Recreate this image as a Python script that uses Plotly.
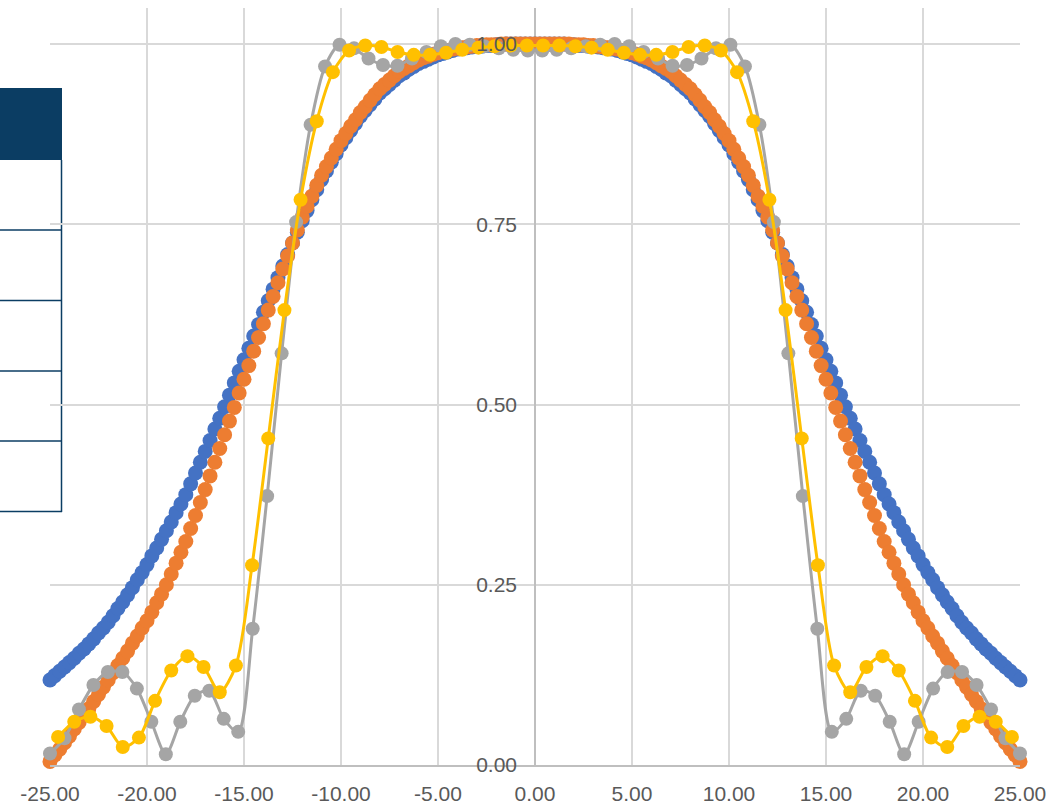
import numpy as np
import plotly.graph_objects as go

# Sampling grids
X_DENSE = np.linspace(-25, 25, 201)          # step 0.25
X_GRAY = np.linspace(-25, 25, 68)
X_YELLOW = np.linspace(-25 + 25 / 60, 25 - 25 / 60, 60)

BLUE = [
    0.118, 0.124, 0.130, 0.136, 0.142, 0.148, 0.155, 0.161,
    0.168, 0.175, 0.183, 0.190, 0.198, 0.207, 0.217, 0.226,
    0.236, 0.246, 0.257, 0.267, 0.278, 0.290, 0.301, 0.313,
    0.325, 0.337, 0.350, 0.362, 0.375, 0.390, 0.405, 0.420,
    0.435, 0.450, 0.466, 0.481, 0.497, 0.513, 0.530, 0.546,
    0.562, 0.578, 0.595, 0.611, 0.628, 0.644, 0.660, 0.676,
    0.692, 0.708, 0.724, 0.739, 0.755, 0.769, 0.784, 0.798,
    0.812, 0.824, 0.836, 0.848, 0.860, 0.870, 0.880, 0.890,
    0.900, 0.908, 0.916, 0.924, 0.932, 0.938, 0.944, 0.950,
    0.956, 0.960, 0.965, 0.969, 0.973, 0.976, 0.979, 0.982,
    0.985, 0.987, 0.989, 0.991, 0.993, 0.994, 0.995, 0.996,
    0.997, 0.997, 0.998, 0.998, 0.999, 0.999, 1.000, 1.000,
    1.000, 1.000, 1.000, 1.000,
    1.000,
    1.000, 1.000, 1.000, 1.000,
    1.000, 1.000, 0.999, 0.999, 0.998, 0.998, 0.997, 0.997,
    0.996, 0.995, 0.994, 0.993, 0.991, 0.989, 0.987, 0.985,
    0.982, 0.979, 0.976, 0.973, 0.969, 0.965, 0.960, 0.956,
    0.950, 0.944, 0.938, 0.932, 0.924, 0.916, 0.908, 0.900,
    0.890, 0.880, 0.870, 0.860, 0.848, 0.836, 0.824, 0.812,
    0.798, 0.784, 0.769, 0.755, 0.739, 0.724, 0.708, 0.692,
    0.676, 0.660, 0.644, 0.628, 0.611, 0.595, 0.578, 0.562,
    0.546, 0.530, 0.513, 0.497, 0.481, 0.466, 0.450, 0.435,
    0.420, 0.405, 0.390, 0.375, 0.362, 0.350, 0.337, 0.325,
    0.313, 0.301, 0.290, 0.278, 0.267, 0.257, 0.246, 0.236,
    0.226, 0.217, 0.207, 0.198, 0.190, 0.183, 0.175, 0.168,
    0.161, 0.155, 0.148, 0.142, 0.136, 0.130, 0.124, 0.118,
]

ORANGE = [
    0.005, 0.014, 0.022, 0.031, 0.040, 0.050, 0.059, 0.069,
    0.078, 0.088, 0.098, 0.108, 0.118, 0.128, 0.138, 0.148,
    0.158, 0.169, 0.179, 0.190, 0.200, 0.212, 0.225, 0.237,
    0.250, 0.265, 0.280, 0.295, 0.310, 0.328, 0.346, 0.364,
    0.382, 0.401, 0.420, 0.439, 0.458, 0.477, 0.496, 0.516,
    0.535, 0.554, 0.574, 0.593, 0.612, 0.631, 0.650, 0.669,
    0.688, 0.706, 0.724, 0.742, 0.760, 0.775, 0.789, 0.804,
    0.818, 0.830, 0.842, 0.854, 0.866, 0.876, 0.886, 0.895,
    0.905, 0.913, 0.922, 0.930, 0.938, 0.944, 0.950, 0.956,
    0.962, 0.966, 0.970, 0.974, 0.978, 0.981, 0.983, 0.986,
    0.988, 0.990, 0.991, 0.993, 0.994, 0.995, 0.996, 0.997,
    0.998, 0.998, 0.999, 0.999, 0.999, 1.000, 1.000, 1.000,
    1.000, 1.000, 1.000, 1.000,
    1.000,
    1.000, 1.000, 1.000, 1.000,
    1.000, 1.000, 1.000, 0.999, 0.999, 0.999, 0.998, 0.998,
    0.997, 0.996, 0.995, 0.994, 0.993, 0.991, 0.990, 0.988,
    0.986, 0.983, 0.981, 0.978, 0.974, 0.970, 0.966, 0.962,
    0.956, 0.950, 0.944, 0.938, 0.930, 0.922, 0.913, 0.905,
    0.895, 0.886, 0.876, 0.866, 0.854, 0.842, 0.830, 0.818,
    0.804, 0.789, 0.775, 0.760, 0.742, 0.724, 0.706, 0.688,
    0.669, 0.650, 0.631, 0.612, 0.593, 0.574, 0.554, 0.535,
    0.516, 0.496, 0.477, 0.458, 0.439, 0.420, 0.401, 0.382,
    0.364, 0.346, 0.328, 0.310, 0.295, 0.280, 0.265, 0.250,
    0.237, 0.225, 0.212, 0.200, 0.190, 0.179, 0.169, 0.158,
    0.148, 0.138, 0.128, 0.118, 0.108, 0.098, 0.088, 0.078,
    0.069, 0.059, 0.050, 0.040, 0.031, 0.022, 0.014, 0.005,
]

GRAY = [
    0.016, 0.037, 0.077, 0.111, 0.129, 0.129, 0.106, 0.060,
    0.015, 0.060, 0.096, 0.103, 0.064, 0.046, 0.189, 0.373,
    0.571, 0.753, 0.888, 0.969, 0.999, 0.994, 0.980, 0.971,
    0.970, 0.980, 0.989, 0.997, 1.000, 0.999, 0.997, 0.994,
    0.992, 0.991,
    0.991, 0.992, 0.994, 0.997, 0.999, 1.000, 0.997, 0.989,
    0.980, 0.970, 0.971, 0.980, 0.994, 0.999, 0.969, 0.888,
    0.753, 0.571, 0.373, 0.189, 0.046, 0.064, 0.103, 0.096,
    0.060, 0.015, 0.060, 0.106, 0.129, 0.129, 0.111, 0.077,
    0.037, 0.016,
]

YELLOW = [
    0.039, 0.060, 0.067, 0.054, 0.025, 0.038, 0.089, 0.131,
    0.151, 0.136, 0.101, 0.138, 0.277, 0.453, 0.631, 0.784,
    0.893, 0.961, 0.991, 0.998, 0.996, 0.989, 0.985, 0.985,
    0.988, 0.992, 0.995, 0.997, 0.998, 0.998,
    0.998, 0.998, 0.997, 0.995, 0.992, 0.988, 0.985, 0.985,
    0.989, 0.996, 0.998, 0.991, 0.961, 0.893, 0.784, 0.631,
    0.453, 0.277, 0.138, 0.101, 0.136, 0.151, 0.131, 0.089,
    0.038, 0.025, 0.054, 0.067, 0.060, 0.039,
]

X_TICKS = [-25, -20, -15, -10, -5, 0, 5, 10, 15, 20, 25]
X_LABELS = ["-25.00", "-20.00", "-15.00", "-10.00", "-5.00", "0.00",
            "5.00", "10.00", "15.00", "20.00", "25.00"]
Y_TICKS = [0, 0.25, 0.5, 0.75, 1.0]
Y_LABELS = ["0.00", "0.25", "0.50", "0.75", "1.00"]

FONT = "Liberation Sans, Arial, sans-serif"
TEXT_GREY = "#595959"
GRID = "#d9d9d9"
AXIS = "#bfbfbf"

fig = go.Figure()

fig.add_trace(go.Scatter(
    x=X_DENSE, y=BLUE, mode="markers", cliponaxis=False,
    marker=dict(size=15, color="#4472C4", line=dict(width=0)),
))
fig.add_trace(go.Scatter(
    x=X_DENSE, y=ORANGE, mode="markers", cliponaxis=False,
    marker=dict(size=15, color="#ED7D31", line=dict(width=0)),
))
fig.add_trace(go.Scatter(
    x=X_GRAY, y=GRAY, mode="lines+markers", cliponaxis=False,
    line=dict(color="#A5A5A5", width=3, shape="spline", smoothing=0.8),
    marker=dict(size=14, color="#A5A5A5", line=dict(width=0)),
))
fig.add_trace(go.Scatter(
    x=X_YELLOW, y=YELLOW, mode="lines+markers", cliponaxis=False,
    line=dict(color="#FFC000", width=3, shape="spline", smoothing=0.8),
    marker=dict(size=14, color="#FFC000", line=dict(width=0)),
))

# Table fragment sitting behind the chart on the left edge
NAVY = "#0b3d63"
PLOT_L, PLOT_R, PLOT_T, PLOT_B = 50, 1020, 8, 765


def px_x(px):
    return (px - PLOT_L) / (PLOT_R - PLOT_L)


def px_y(py):
    return (PLOT_B - py) / (PLOT_B - PLOT_T)


shapes = [
    dict(type="rect", xref="paper", yref="paper", layer="below",
         x0=px_x(0), x1=px_x(62), y0=px_y(160), y1=px_y(88),
         fillcolor=NAVY, line=dict(width=0)),
    dict(type="line", xref="paper", yref="paper", layer="below",
         x0=px_x(61.5), x1=px_x(61.5), y0=px_y(512), y1=px_y(160),
         line=dict(color=NAVY, width=1.5)),
]
for row_y in [230, 300.5, 371, 441, 511.5]:
    shapes.append(dict(type="line", xref="paper", yref="paper", layer="below",
                       x0=px_x(0), x1=px_x(62), y0=px_y(row_y), y1=px_y(row_y),
                       line=dict(color=NAVY, width=1.5)))

fig.update_layout(
    width=1049, height=804, autosize=False,
    margin=dict(l=PLOT_L, r=1049 - PLOT_R, t=PLOT_T, b=804 - PLOT_B, pad=0),
    paper_bgcolor="white", plot_bgcolor="rgba(0,0,0,0)",
    showlegend=False,
    shapes=shapes,
    font=dict(family=FONT, size=21, color=TEXT_GREY),
    xaxis=dict(
        range=[-25, 25], tickmode="array", tickvals=X_TICKS, ticktext=X_LABELS,
        automargin=False,
        showgrid=True, gridcolor=GRID, gridwidth=1.5,
        zeroline=True, zerolinecolor=AXIS, zerolinewidth=1.5,
        showline=True, linecolor=AXIS, linewidth=1.5,
        ticks="", ticklabelstandoff=9,
        tickfont=dict(family=FONT, size=21, color=TEXT_GREY),
    ),
    yaxis=dict(
        range=[0, 1.05], tickmode="array", tickvals=Y_TICKS, ticktext=Y_LABELS,
        anchor="free", position=0.5, automargin=False,
        showgrid=True, gridcolor=GRID, gridwidth=1.5,
        zeroline=False, showline=False,
        ticks="", ticklabelstandoff=18,
        tickfont=dict(family=FONT, size=21, color=TEXT_GREY),
    ),
)

fig.write_html("out.html")
